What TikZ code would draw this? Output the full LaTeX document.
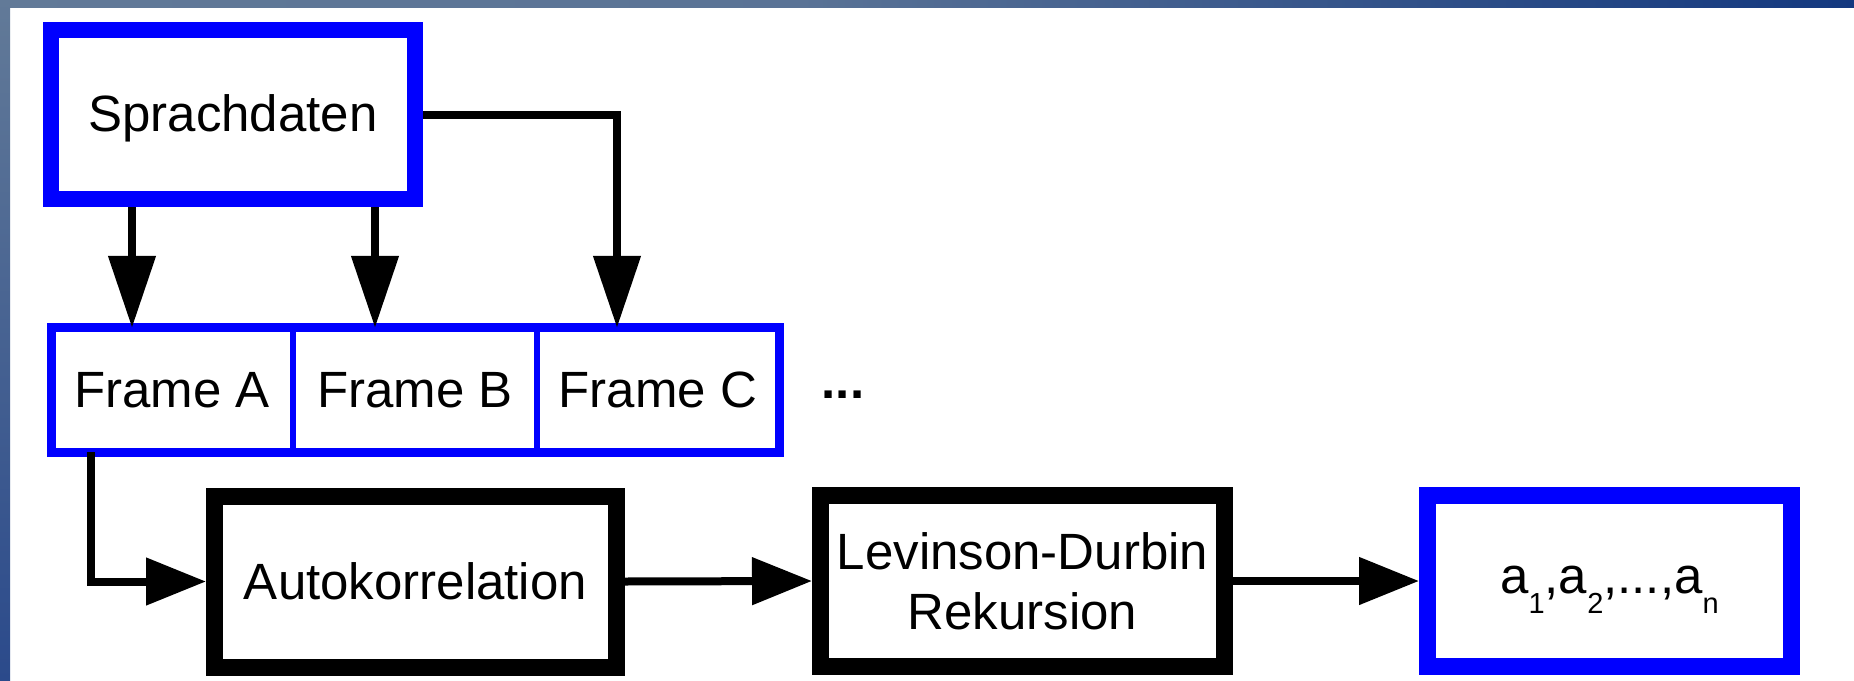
\documentclass[tikz,border=0pt]{standalone}
\usepackage{fontspec}
\setmainfont{Liberation Sans}
\usetikzlibrary{arrows.meta}
\definecolor{bandgray}{HTML}{627A98}
\definecolor{bandmid}{HTML}{5A7396}
\definecolor{bandnavy}{HTML}{13387F}
\definecolor{bandlow}{HTML}{2B4A8B}
\definecolor{pureblue}{HTML}{0000FF}
% lowered, smaller index after a coefficient letter
\newcommand\lowsub[1]{\raisebox{-20pt}{\fontsize{29}{29}\selectfont #1}}

\begin{document}
\begin{tikzpicture}[x=1pt,y=-1pt,
  panel/.style={draw, rectangle, fill=white, inner sep=0pt,
                font=\fontsize{51}{60}\selectfont, align=center},
  bluebox/.style={panel, draw=pureblue, line width=16pt},
  blackbox/.style={panel, draw=black, line width=17pt},
  cell/.style={panel, draw=pureblue, line width=6pt, outer sep=0pt,
               minimum height=124.5pt},
  conn/.style={draw=black, line width=8pt},
  vtip/.style={conn, -{Triangle[length=72pt,width=46pt]}},
  htip/.style={conn, -{Triangle[length=60pt,width=46pt]}},
]
\useasboundingbox (0,0) rectangle (1854,680);
\fill[white] (0,0) rectangle (1854,680);

% slide frame bands
\shade[left color=bandgray, right color=bandmid] (0,0) rectangle (800,7);
\shade[left color=bandmid, right color=bandnavy] (800,0) rectangle (1854,7);
\shade[top color=bandgray, bottom color=bandlow] (0,0) rectangle (10,680);

% speech data source
\node[bluebox, minimum width=364pt, minimum height=169pt,
      text height=37pt, text depth=3pt] (sp) at (233,114.5) {Sprachdaten};

% frame row
\node[cell, minimum width=242pt] (fa) at (172,390) {Frame A};
\node[cell, minimum width=244pt] (fb) at (415,390) {Frame B};
\node[cell, minimum width=242pt] (fc) at (658,390) {Frame C};
\draw[pureblue, line width=9pt] (fa.north west) rectangle (fc.south east);
\node[font=\fontsize{51}{60}\selectfont\bfseries] (more) at (843,395) {...};

% processing chain
\node[blackbox, minimum width=402pt, minimum height=171pt] (auto) at (415.5,581.5) {Autokorrelation};
\node[blackbox, minimum width=404pt, minimum height=171pt] (lev) at (1022.5,581) {Levinson-Durbin\\Rekursion};
\node[bluebox, line width=17pt, minimum width=364pt, minimum height=171pt,
      text height=34pt, text depth=10pt] (ab) at (1609.5,581)
      {a\lowsub{1},a\lowsub{2},...,a\lowsub{n}};

% connectors
\draw[vtip] ([xshift=-40pt]fa.north |- sp.south) -- ([xshift=-40pt]fa.north);
\draw[vtip] ([xshift=-40pt]fb.north |- sp.south) -- ([xshift=-40pt]fb.north);
\draw[vtip] (sp.east) -| ([xshift=-41pt]fc.north);
\draw[htip] ([xshift=-81pt]fa.south) |- (auto.west);
\draw[htip] (auto.east) -- (lev.west);
\draw[htip] (lev.east) -- (ab.west);
\end{tikzpicture}
\end{document}
